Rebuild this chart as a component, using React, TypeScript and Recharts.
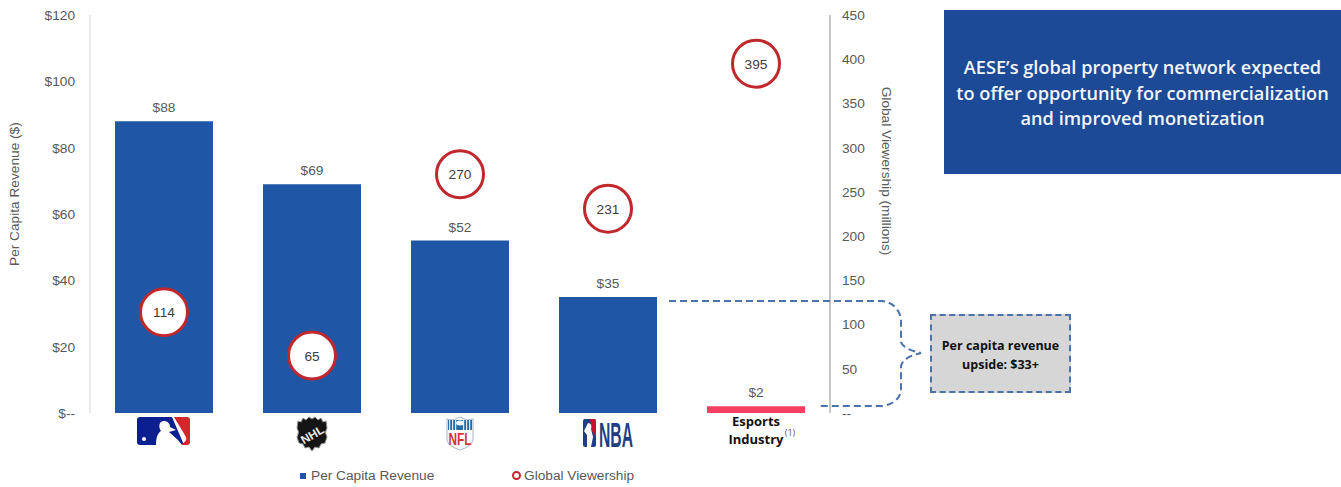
import { Bar, Cell, ComposedChart, LabelList, Legend, Line, XAxis, YAxis } from "recharts";

const leagues = ["MLB", "NHL", "NFL", "NBA", "Esports"];
const perCapitaRevenue = [88, 69, 52, 35, 2];
const globalViewership = [114, 65, 270, 231, 395];
const revenueTicks = [0, 20, 40, 60, 80, 100, 120];
const viewershipTicks = [0, 50, 100, 150, 200, 250, 300, 350, 400, 450];

const tableData = leagues.map((league, i) => ({
  league,
  revenue: perCapitaRevenue[i],
  viewers: globalViewership[i],
}));

const BLUE = "#1f57a6";
const RED = "#c0282d";
const PINK = "#f43f5e";
const GREY_TEXT = "#595959";
const AXIS_FONT = "'Liberation Sans', Arial, sans-serif";
const NOTE_FONT = "'Open Sans', 'Noto Sans', sans-serif";
const AXIS_SIZE = 13.7;

const legendItems = [
  { name: "Per Capita Revenue", kind: "square" },
  { name: "Global Viewership", kind: "ring" },
];

const nflStripes = [-11, -8, -5, 3, 6, 9];

// league marks under the bars, drawn around the tick position
const LeagueTick = ({ x, y, payload }: any) => {
  const league = payload.value;
  return (
    <g transform={`translate(${x},${y})`}>
      {league === "MLB" && (
        <g>
          <path d="M-24 4 H8 L20 32 H-24 Q-27 32 -27 29 V7 Q-27 4 -24 4 Z" fill="#0b1f8f" />
          <path d="M10 4 H23 Q26 4 26 7 V29 Q26 32 23 32 H16 Q24 28 22 24 Z" fill="#d5262c" />
          <path d="M-8 32 C-8 24 -6 20 -3 18 C-6 14 -5 8 0 8 C4 8 6 11 6 14 L12 17 L5 19 L14 27 L18 32 Z" fill="#fff" />
          <circle cx={-20} cy={26} r={2} fill="#fff" />
        </g>
      )}
      {league === "NHL" && (
        <g>
          <path
            d="M-14 8 L-11 9 L-9 5 L-6 7 L-3 4 L0 6 L3 4 L6 7 L9 5 L11 9 L14 8 L15 15 Q12 19 15 24 L13 30 L9 31 L7 35 L3 34 L0 38 L-3 34 L-7 35 L-9 31 L-13 30 L-15 24 Q-12 19 -15 15 Z"
            fill="#151515"
            stroke="#8f8f8f"
            strokeWidth={1}
          />
          <text x={0} y={26} textAnchor="middle" fontFamily={AXIS_FONT} fontWeight={700} fontSize={12} fill="#e8e8e8" transform="rotate(-30 0 21)">
            NHL
          </text>
        </g>
      )}
      {league === "NFL" && (
        <g>
          <path d="M-13 6 L-7 7 L0 4 L7 7 L13 6 V27 Q12 33 0 37 Q-12 33 -13 27 Z" fill="#fff" stroke="#a9b6c8" strokeWidth={1} />
          <rect x={-12} y={7} width={24} height={10} fill="#2a6aa3" />
          {nflStripes.map((sx) => (
            <rect key={sx} x={sx} y={7} width={1.2} height={10} fill="#dfe9f2" />
          ))}
          <ellipse cx={0} cy={10} rx={4} ry={2.5} fill="#eef3f8" />
          <text x={0} y={32} textAnchor="middle" fontFamily={AXIS_FONT} fontWeight={700} fontSize={17} fill="#d2343c" textLength={23} lengthAdjust="spacingAndGlyphs">
            NFL
          </text>
        </g>
      )}
      {league === "NBA" && (
        <g>
          <rect x={-25} y={6} width={13} height={28} rx={2} fill="#1d3f86" />
          <path d="M-18 6 H-14 Q-12 6 -12 8 V24 L-16 18 Z" fill="#c8102e" />
          <path d="M-20 10 C-17 10 -16 13 -17 16 L-15 24 L-17 34 H-21 L-21 22 L-24 18 Z" fill="#fff" />
          <text x={-9} y={34} fontFamily={AXIS_FONT} fontWeight={700} fontSize={35} fill="#1d3f86" textLength={34} lengthAdjust="spacingAndGlyphs">
            NBA
          </text>
        </g>
      )}
      {league === "Esports" && (
        <g fontFamily={NOTE_FONT} fontWeight={700} fill="#111" textAnchor="middle">
          <text x={0} y={13} fontSize={13}>Esports</text>
          <text x={0} y={31} fontSize={13}>Industry</text>
          <text x={34} y={23} fontSize={9} fontWeight={400} fill={GREY_TEXT}>(1)</text>
        </g>
      )}
    </g>
  );
};

const ViewershipDot = ({ cx, cy, payload }: any) => (
  <g key={payload.league}>
    <circle cx={cx} cy={cy} r={23.5} fill="#fff" stroke={RED} strokeWidth={3} />
    <text x={cx} y={cy + 5} textAnchor="middle" fontFamily={AXIS_FONT} fontSize={AXIS_SIZE} fill="#404040">
      {payload.viewers}
    </text>
  </g>
);

const ChartLegend = () => (
  <div style={{ position: "relative", height: 30, fontFamily: AXIS_FONT, fontSize: AXIS_SIZE, color: GREY_TEXT }}>
    {legendItems.map((item) =>
      item.kind === "square" ? (
        <span key={item.name} style={{ position: "absolute", left: 300, top: 11, whiteSpace: "nowrap" }}>
          <span style={{ display: "inline-block", width: 6, height: 6, background: BLUE, marginRight: 5, verticalAlign: 1 }} />
          {item.name}
        </span>
      ) : (
        <span key={item.name} style={{ position: "absolute", left: 512, top: 11, whiteSpace: "nowrap" }}>
          <span style={{ display: "inline-block", width: 5, height: 5, borderRadius: "50%", border: `2px solid ${RED}`, marginRight: 3, verticalAlign: 0 }} />
          {item.name}
        </span>
      ),
    )}
  </div>
);

export default function App() {
  return (
    <div style={{ position: "absolute", left: 0, top: 0, width: 1341, height: 487, background: "#fff", overflow: "hidden" }}>
      <ComposedChart
        width={1341}
        height={487}
        data={tableData}
        barCategoryGap={25}
        margin={{ top: 15, right: 411, bottom: 0, left: 0 }}
      >
        <XAxis dataKey="league" axisLine={false} tickLine={false} tickSize={0} tickMargin={0} height={44} interval={0} tick={<LeagueTick />} />
        <YAxis
          yAxisId="revenue"
          width={90}
          domain={[0, 120]}
          ticks={revenueTicks}
          tickLine={false}
          tickSize={0}
          tickMargin={15}
          axisLine={{ stroke: "#d4d4d4", strokeWidth: 1 }}
          tick={{ fill: GREY_TEXT, fontSize: AXIS_SIZE, fontFamily: AXIS_FONT }}
          tickFormatter={(v: number) => (v === 0 ? "$--" : `$${v}`)}
          label={{ value: "Per Capita Revenue ($)", angle: -90, position: "insideLeft", dx: 9, dy: 52, fill: GREY_TEXT, fontSize: AXIS_SIZE, fontFamily: AXIS_FONT }}
        />
        <YAxis
          yAxisId="viewers"
          orientation="right"
          width={100}
          domain={[0, 450]}
          ticks={viewershipTicks}
          tickLine={false}
          tickSize={0}
          tickMargin={12}
          axisLine={{ stroke: "#8c8c8c", strokeWidth: 1 }}
          tick={{ fill: GREY_TEXT, fontSize: AXIS_SIZE, fontFamily: AXIS_FONT }}
          tickFormatter={(v: number) => (v === 0 ? "--" : `${v}`)}
        />
        <Legend height={30} content={<ChartLegend />} />
        <Bar yAxisId="revenue" dataKey="revenue" name="Per Capita Revenue" fill={BLUE} barSize={98} isAnimationActive={false}>
          {tableData.map((row) => (
            <Cell key={row.league} fill={row.league === "Esports" ? PINK : BLUE} />
          ))}
          <LabelList dataKey="revenue" position="top" offset={9} formatter={(v: any) => `$${v}`} fill={GREY_TEXT} fontSize={AXIS_SIZE} fontFamily={AXIS_FONT} />
        </Bar>
        <Line yAxisId="viewers" dataKey="viewers" name="Global Viewership" stroke="none" dot={ViewershipDot} activeDot={false} isAnimationActive={false} />
      </ComposedChart>

      {/* right axis title */}
      <svg width={1341} height={487} style={{ position: "absolute", left: 0, top: 0, pointerEvents: "none" }}>
        <text x={0} y={0} transform="translate(882,171) rotate(90)" textAnchor="middle" fontFamily={AXIS_FONT} fontSize={AXIS_SIZE} fill={GREY_TEXT}>
          Global Viewership (millions)
        </text>
        {/* bracket from the NBA bar top down to the esports bar */}
        <path
          d="M669 301 H882 Q897 303 901 318 V342 Q903 349 921 353 Q903 357 901 366 V392 Q897 404 882 406 H818"
          fill="none"
          stroke="#4a72ab"
          strokeWidth={2}
          strokeDasharray="7 4"
        />
      </svg>

      <div
        style={{
          position: "absolute", left: 944, top: 10, width: 397, height: 164, background: "#1c4a96",
          color: "#f2f5fa", fontFamily: NOTE_FONT, fontWeight: 600, fontSize: 18.2, lineHeight: "25.5px",
          textAlign: "center", paddingTop: 45, boxSizing: "border-box",
        }}
      >
        AESE’s global property network expected
        <br />
        to offer opportunity for commercialization
        <br />
        and improved monetization
      </div>

      <div
        style={{
          position: "absolute", left: 930, top: 314, width: 141, height: 79, boxSizing: "border-box",
          background: "#d6d6d6", border: "2px dashed #4a72ab", color: "#111", fontFamily: NOTE_FONT,
          fontWeight: 700, fontSize: 12.5, lineHeight: "19px", textAlign: "center", paddingTop: 20,
        }}
      >
        Per capita revenue
        <br />
        upside: $33+
      </div>
    </div>
  );
}
